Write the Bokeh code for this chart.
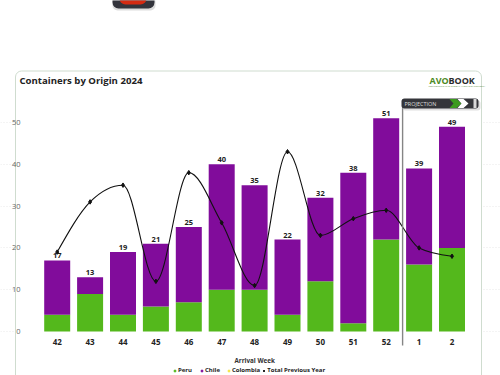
from bokeh.plotting import figure
from bokeh.embed import file_html
from bokeh.resources import INLINE
from bokeh.core.properties import value
from bokeh.models import (ColumnDataSource, BoxAnnotation, PolyAnnotation, Label, Legend, LegendItem,
                          FixedTicker)

weeks = ["42", "43", "44", "45", "46", "47", "48", "49", "50", "51", "52", "1", "2"]
peru = [4, 9, 4, 6, 7, 10, 10, 4, 12, 2, 22, 16, 20]
chile = [13, 4, 15, 15, 18, 30, 25, 18, 20, 36, 29, 23, 29]
colombia = [0] * 13
previous = [19, 31, 35, 12, 38, 26, 11, 43, 23, 27, 29, 20, 18]
y_ticks = [0, 10, 20, 30, 40, 50]

GREEN, PURPLE, YELLOW = "#54b81c", "#810c9b", "#f5e642"
FONT = "Open Sans"
W, H = 500, 375
L, R, B = 30, 478, 331
X0, DX = 56.7, 32.9
DY = 4.18

xs = list(range(len(weeks)))
totals = [a + b + c for a, b, c in zip(peru, chile, colombia)]

p = figure(width=W, height=H, output_backend="svg", toolbar_location=None,
           x_range=((0 - X0) / DX, (W - X0) / DX), y_range=((B - H) / DY, B / DY),
           min_border_left=0, min_border_right=0, min_border_top=0, min_border_bottom=0,
           background_fill_color="white", border_fill_color="white", outline_line_color=None)

# axes
ax = p.xaxis[0]
ax.fixed_location = 0
ax.ticker = FixedTicker(ticks=xs)
ax.major_label_overrides = {i: w for i, w in enumerate(weeks)}
ax.major_label_text_font = FONT
ax.major_label_text_font_size = "8px"
ax.major_label_text_font_style = "bold"
ax.major_label_text_color = "#222222"
ax.major_label_standoff = 1
ax.axis_line_color = None
ax.major_tick_line_color = None
ax.minor_tick_line_color = None

ay = p.yaxis[0]
ay.fixed_location = (L - X0) / DX
ay.ticker = FixedTicker(ticks=y_ticks)
ay.major_label_text_font = FONT
ay.major_label_text_font_size = "7.5px"
ay.major_label_text_color = "#666666"
ay.major_label_standoff = 4
ay.axis_line_color = None
ay.major_tick_line_color = None
ay.minor_tick_line_color = None

p.xgrid.visible = False
p.ygrid.grid_line_color = "#e8e8e8"
p.ygrid.grid_line_dash = "1 2"
p.ygrid.bounds = ((L - X0) / DX, (R - X0) / DX)

def box(l, t, r, b, fill, line=None, radius=0, alpha=1.0, level="overlay"):
    bx = BoxAnnotation(left=l, right=r, top=t, bottom=b, left_units="canvas", right_units="canvas",
                       top_units="canvas", bottom_units="canvas", fill_color=fill, fill_alpha=alpha,
                       line_color=line, line_alpha=1, border_radius=radius, level=level, editable=False)
    p.add_layout(bx)
    return bx

# card outline
box(15, 70.5, 481, 385, "white", "#cfdccf", 6, 1, "underlay")

# red button at the top
box(112, -12, 155, 10, "#bbbbbb", None, 5, 0.5)
box(112, -12, 154, 8, "#33343c", None, 6)
box(119, -8, 146, 4, "#d42a12", None, 6)

# stacked bars
src = ColumnDataSource(dict(x=xs, Peru=peru, Chile=chile, Colombia=colombia, total=totals,
                            label=[str(t) for t in totals], prev=previous))
p.vbar_stack(["Peru", "Chile", "Colombia"], x="x", width=26 / DX, color=[GREEN, PURPLE, YELLOW],
             line_color=None, source=src)

p.text(x="x", y="total", text="label", source=src, text_font=value(FONT), text_font_size="7.5px",
       text_font_style="bold", text_color="#222222", text_align="center", text_baseline="bottom", y_offset=-2)

# smooth previous-year curve: monotone cubic Bezier between the real values
n = len(previous)
sec = [previous[i + 1] - previous[i] for i in range(n - 1)]
m = [0.0] * n
for i in range(1, n - 1):
    a, b = sec[i - 1], sec[i]
    if a * b > 0:
        m[i] = (1 if a > 0 else -1) * 2 * min(abs(a), abs(b), 0.25 * abs(a + b))
m[0] = (3 * sec[0] - m[1]) / 2
m[-1] = (3 * sec[-1] - m[-2]) / 2
p.bezier(x0=xs[:-1], y0=previous[:-1], x1=xs[1:], y1=previous[1:],
         cx0=[x + 1 / 3 for x in xs[:-1]], cy0=[previous[i] + m[i] / 3 for i in range(n - 1)],
         cx1=[x - 1 / 3 for x in xs[1:]], cy1=[previous[i + 1] - m[i + 1] / 3 for i in range(n - 1)],
         line_color="#111111", line_width=1.1)
dots = p.scatter(x="x", y="prev", source=src, marker="diamond", size=4.5, color="#111111")

# legend: round keys as in the reference, from scatter renderers whose only point lies outside the view
key_peru = p.scatter([-99], [-99], marker="circle", size=5, color=GREEN)
key_chile = p.scatter([-99], [-99], marker="circle", size=5, color=PURPLE)
key_colombia = p.scatter([-99], [-99], marker="circle", size=5, color=YELLOW)
legend = Legend(items=[LegendItem(label="Peru", renderers=[key_peru]),
                       LegendItem(label="Chile", renderers=[key_chile]),
                       LegendItem(label="Colombia", renderers=[key_colombia]),
                       LegendItem(label="Total Previous Year", renderers=[dots])],
                orientation="horizontal", location=(172, 1), background_fill_alpha=0, border_line_color=None,
                label_text_font=FONT, label_text_font_size="6px", label_text_font_style="bold",
                label_text_color="#222222", glyph_width=5, glyph_height=5, label_standoff=1, spacing=1,
                padding=0, margin=0, label_height=8)
p.add_layout(legend, "center")

def label(x, y, text, size, color, style="bold"):
    p.add_layout(Label(x=x, y=y, x_units="canvas", y_units="canvas", text=text, text_font=FONT,
                       text_font_size=size, text_color=color, text_font_style=style,
                       text_baseline="middle", level="overlay", editable=False))

label(19, 80, "Containers by Origin 2024", "9.6px", "#222222")
label(234, 359.5, "Arrival Week", "6.3px", "#333333")

# projection divider and badge
box(401.4, 106, 402.8, 345, "#858585")
box(402, 100, 480, 110, "#cccccc", None, 3, 0.6)
box(401, 98, 478, 108, "#34353a", None, 3)

def poly(px, py, fill):
    p.add_layout(PolyAnnotation(xs=px, ys=py, xs_units="canvas", ys_units="canvas", fill_color=fill, fill_alpha=1,
                                line_color=None, level="overlay", editable=False))

poly([449, 456, 461, 456, 449, 453], [98.5, 98.5, 103, 107.5, 107.5, 103], "#3c9a1e")
poly([457, 463, 468, 463, 457, 461], [98.5, 98.5, 103, 107.5, 107.5, 103], "#ffffff")
box(473, 98.5, 476, 107.5, "#d8d8d8")

label(404, 103, "PROJECTION", "5.5px", "#dddddd", "normal")
label(429, 80, "AVO", "9px", "#4d8a24")
label(448, 80, "BOOK", "9px", "#2b2b2b")
label(428, 85.5, "CONNECTING THE GLOBAL AVOCADO INDUSTRY", "2.5px", "#5a8a3a", "normal")

open("out.html", "w").write(file_html(p, INLINE))
